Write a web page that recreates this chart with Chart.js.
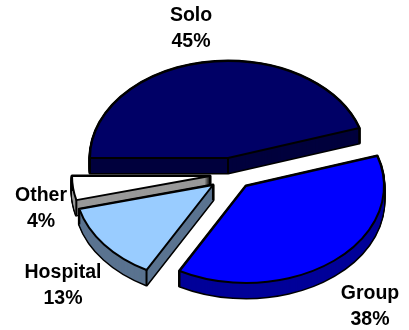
<!DOCTYPE html>
<html>
<head>
<meta charset="utf-8">
<script src="https://cdn.jsdelivr.net/npm/chart.js@4"></script>
<style>
  html, body { margin: 0; padding: 0; background: #fff; }
  #wrap { position: relative; width: 409px; height: 330px; }
</style>
</head>
<body>
<div id="wrap"><canvas id="chart"></canvas></div>
<script>
const categories = ['Solo', 'Group', 'Hospital', 'Other'];
const shares = [45, 38, 13, 4];
const topColors = ['#000066', '#0000ff', '#99ccff', '#ffffff'];
const sideColors = ['#00003d', '#000099', '#5a7390', '#999999'];

// how far each slice is pulled out of the pie, in px
const sliceShift = [[0, 0], [18, 28], [-15, 27], [-18, 18]];
const labelPos = [[191, 16], [370, 294], [63, 273], [41, 196]];
const squash = 0.703;
const depth = 15;
const drawOrder = [0, 3, 2, 1];

function slicePath(ctx, arc, dx, dy) {
  const { x, y, startAngle, endAngle, outerRadius } = arc.getProps(['x', 'y', 'startAngle', 'endAngle', 'outerRadius'], true);
  ctx.beginPath();
  ctx.moveTo(x + dx, y + dy);
  ctx.ellipse(x + dx, y + dy, outerRadius, outerRadius * squash, 0, startAngle, endAngle);
  ctx.closePath();
}

function edgeLines(ctx, arc, dx, dy) {
  const { x, y, startAngle, endAngle, outerRadius } = arc.getProps(['x', 'y', 'startAngle', 'endAngle', 'outerRadius'], true);
  const rx = outerRadius, ry = outerRadius * squash;
  const pts = [[x, y],
    [x + rx * Math.cos(startAngle), y + ry * Math.sin(startAngle)],
    [x + rx * Math.cos(endAngle), y + ry * Math.sin(endAngle)]];
  ctx.beginPath();
  pts.forEach(p => {
    ctx.moveTo(p[0] + dx, p[1] + dy);
    ctx.lineTo(p[0] + dx, p[1] + dy + depth);
  });
  ctx.stroke();
}

const pie3d = {
  id: 'pie3d',
  beforeDatasetsDraw(chart) {
    const ctx = chart.ctx;
    const arcs = chart.getDatasetMeta(0).data;
    ctx.save();
    ctx.lineJoin = 'round';
    ctx.strokeStyle = '#000';
    drawOrder.forEach(i => {
      const arc = arcs[i];
      const [dx, dy] = sliceShift[i];
      // extruded wall: black silhouette first, then the wall colour over it
      ctx.lineWidth = 3;
      for (let d = depth; d >= 0; d--) {
        slicePath(ctx, arc, dx, dy + d);
        ctx.stroke();
      }
      ctx.fillStyle = sideColors[i];
      for (let d = depth; d >= 0; d--) {
        slicePath(ctx, arc, dx, dy + d);
        ctx.fill();
      }
      ctx.lineWidth = 2;
      edgeLines(ctx, arc, dx, dy);
      slicePath(ctx, arc, dx, dy);
      ctx.fillStyle = topColors[i];
      ctx.fill();
      ctx.stroke();
    });
    ctx.restore();
    return false;
  },
  afterDraw(chart) {
    const ctx = chart.ctx;
    ctx.save();
    ctx.font = 'bold 19.5px "Liberation Sans", Arial, sans-serif';
    ctx.fillStyle = '#000';
    ctx.textAlign = 'center';
    ctx.textBaseline = 'middle';
    categories.forEach((name, i) => {
      ctx.fillText(name, labelPos[i][0], labelPos[i][1]);
      ctx.fillText(shares[i] + '%', labelPos[i][0], labelPos[i][1] + 26);
    });
    ctx.restore();
  }
};

new Chart(document.getElementById('chart'), {
  type: 'pie',
  data: {
    labels: categories,
    datasets: [{ data: shares, backgroundColor: topColors, borderWidth: 0 }]
  },
  options: {
    responsive: true,
    maintainAspectRatio: false,
    animation: false,
    rotation: 270,
    layout: { padding: { top: 20, bottom: 34, left: 47, right: 0 } },
    plugins: { legend: { display: false }, tooltip: { enabled: false } }
  },
  plugins: [pie3d]
});
</script>
</body>
</html>
